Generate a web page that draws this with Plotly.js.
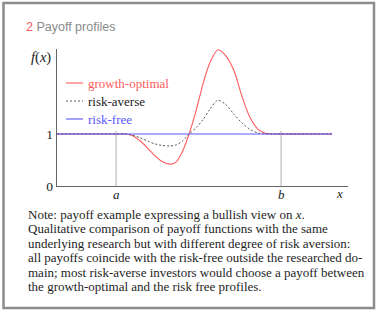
<!DOCTYPE html>
<html>
<head>
<meta charset="utf-8">
<script src="https://cdn.plot.ly/plotly-3.0.1.min.js"></script>
<style>html,body{margin:0;padding:0;background:#fff;}#chart{width:378px;height:314px;}</style>
</head>
<body>
<div id="chart"></div>
<script>
// ---- data (x in axis units, 0..10 ; y = payoff) ----
const xGrowth = [0, 2.03, 2.34, 2.58, 2.85, 3.13, 3.37, 3.61, 3.88, 4.09, 4.30, 4.54, 4.78, 5.02, 5.26, 5.53, 5.81, 6.08, 6.36, 6.63, 6.91, 7.18, 7.49, 9.45];
const yGrowth = [1, 1, 1, 0.97, 0.87, 0.72, 0.58, 0.47, 0.42, 0.46, 0.65, 1.0, 1.45, 1.97, 2.38, 2.62, 2.50, 2.22, 1.72, 1.32, 1.09, 1.01, 1, 1];
const xAverse = [0, 2.03, 2.34, 2.58, 2.85, 3.13, 3.37, 3.61, 3.88, 4.09, 4.30, 4.54, 4.78, 5.02, 5.26, 5.53, 5.81, 6.08, 6.36, 6.63, 6.91, 7.18, 7.49, 9.45];
const yAverse = [1, 1, 1, 0.98, 0.93, 0.86, 0.81, 0.78, 0.77, 0.79, 0.86, 1.0, 1.12, 1.28, 1.48, 1.65, 1.56, 1.38, 1.21, 1.09, 1.02, 1.0, 1, 1];
const xFree = [0, 9.45];
const yFree = [1, 1];
const xTickVals = [2.03, 7.7];
const xTickText = ['<i>a</i>', '<i>b</i>'];
const yTickVals = [0, 1];
const yTickText = ['0', '1'];
const seriesNames = ['growth-optimal', 'risk-averse', 'risk-free'];
const seriesColors = ['#ff5c5c', '#444444', '#5858ff'];
const noteLines = [
  'Note: payoff example expressing a bullish view on <i>x</i>.',
  'Qualitative comparison of payoff functions with the same',
  'underlying research but with different degree of risk aversion:',
  'all payoffs coincide with the risk-free outside the researched do-',
  'main; most risk-averse investors would choose a payoff between',
  'the growth-optimal and the risk free profiles.'
];

// ---- geometry helpers (pixel -> paper) ----
const W = 378, H = 314, L = 57, R = 348, T = 49, B = 186;
const px = v => (v - L) / (R - L);
const py = v => (B - v) / (B - T);

const serif = 'Liberation Serif, DejaVu Serif, serif';

const traces = [
  {x: xGrowth, y: yGrowth, mode: 'lines', line: {color: seriesColors[0], width: 1.1, shape: 'spline', smoothing: 0.8}, cliponaxis: false, showlegend: false, hoverinfo: 'skip'},
  {x: xAverse, y: yAverse, mode: 'lines', line: {color: seriesColors[1], width: 0.9, dash: '2px,2px', shape: 'spline', smoothing: 0.8}, cliponaxis: false, showlegend: false, hoverinfo: 'skip'},
  {x: xFree, y: yFree, mode: 'lines', line: {color: seriesColors[2], width: 1.1}, cliponaxis: false, showlegend: false, hoverinfo: 'skip'}
];

const shapes = [
  // frame
  {type: 'rect', xref: 'paper', yref: 'paper', x0: px(3.5), x1: px(374), y0: py(3), y1: py(308), line: {color: '#8c8c8c', width: 2.5}, layer: 'below'},
  // a and b guides
  {type: 'line', xref: 'x', yref: 'y', x0: xTickVals[0], x1: xTickVals[0], y0: 0, y1: 1.06, line: {color: '#b0b0b0', width: 1}, layer: 'below'},
  {type: 'line', xref: 'x', yref: 'y', x0: xTickVals[1], x1: xTickVals[1], y0: 0, y1: 1.06, line: {color: '#b0b0b0', width: 1}, layer: 'below'}
];

const annotations = [
  {xref: 'paper', yref: 'paper', x: px(24), y: py(27), xanchor: 'left', yanchor: 'middle', showarrow: false,
   text: '<span style="color:#f05a5a">2</span> Payoff profiles', font: {family: 'Liberation Sans, Arial, sans-serif', size: 12.5, color: '#8a8a8a'}},
  {xref: 'paper', yref: 'paper', x: px(41), y: py(57), xanchor: 'center', yanchor: 'middle', showarrow: false,
   text: '<i>f</i>(<i>x</i>)', font: {family: serif, size: 14.5, color: '#222'}},
  {xref: 'paper', yref: 'paper', x: px(339), y: py(193), xanchor: 'center', yanchor: 'middle', showarrow: false,
   text: '<i>x</i>', font: {family: serif, size: 13, color: '#222'}}
];

// x tick labels a, b placed at their axis values
xTickVals.forEach((v, i) => {
  annotations.push({xref: 'x', yref: 'paper', x: v, y: py(194), xanchor: 'center', yanchor: 'middle', showarrow: false,
    text: xTickText[i], font: {family: serif, size: 13, color: '#222'}});
});

// legend (manual)
const legY = [83, 101, 119];
seriesNames.forEach((n, i) => {
  shapes.push({type: 'line', xref: 'paper', yref: 'paper', x0: px(66), x1: px(83), y0: py(legY[i]), y1: py(legY[i]),
    line: {color: seriesColors[i], width: i === 1 ? 0.9 : 1.1, dash: i === 1 ? '2px,2px' : 'solid'}});
  annotations.push({xref: 'paper', yref: 'paper', x: px(86), y: py(legY[i]), xanchor: 'left', yanchor: 'middle', showarrow: false,
    text: n, font: {family: serif, size: 13, color: i === 1 ? '#222' : seriesColors[i]}});
});

// note lines
const noteY0 = 214, noteDY = 14.5;
noteLines.forEach((t, i) => {
  annotations.push({xref: 'paper', yref: 'paper', x: px(26), y: py(noteY0 + i * noteDY), xanchor: 'left', yanchor: 'middle', showarrow: false,
    text: t, font: {family: serif, size: 13, color: '#1e1e1e'}});
});

const layout = {
  width: W, height: H,
  margin: {l: L, r: W - R, t: T, b: H - B, pad: 0},
  paper_bgcolor: '#fff', plot_bgcolor: '#fff',
  showlegend: false,
  xaxis: {range: [0, 10], showgrid: false, zeroline: false, showline: true, linecolor: '#666', linewidth: 1.2,
    ticks: '', showticklabels: false, fixedrange: true},
  yaxis: {range: [0, 2.635], showgrid: false, zeroline: false, showline: true, linecolor: '#666', linewidth: 1.2,
    ticks: '', tickvals: yTickVals, ticktext: yTickText, tickfont: {family: serif, size: 13.5, color: '#222'}, fixedrange: true},
  shapes: shapes,
  annotations: annotations
};

Plotly.newPlot('chart', traces, layout, {staticPlot: true, displayModeBar: false});
</script>
</body>
</html>
